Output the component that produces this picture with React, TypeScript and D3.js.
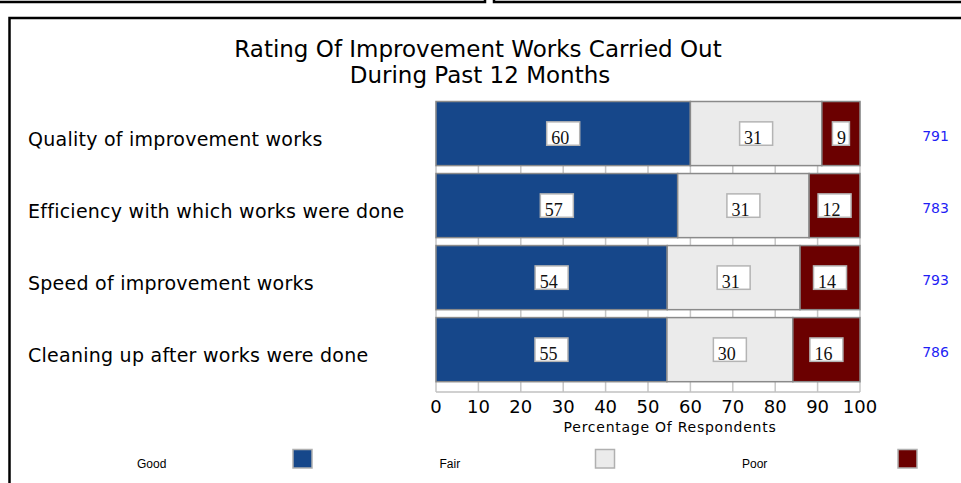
import React from "react";
import * as d3 from "d3";

// rating categories, top to bottom
const categories = [
  "Quality of improvement works",
  "Efficiency with which works were done",
  "Speed of improvement works",
  "Cleaning up after works were done",
];
const seriesNames = ["Good", "Fair", "Poor"];
const good = [60, 57, 54, 55];
const fair = [31, 31, 31, 30];
const poor = [9, 12, 14, 16];
const respondents = [791, 783, 793, 786];
const xTicks = [0, 10, 20, 30, 40, 50, 60, 70, 80, 90, 100];

const colors = ["#16478a", "#ebebeb", "#6b0000"];

const W = 961;
const H = 483;

export default function App() {
  const rows = categories.map((c, i) => ({ cat: c, Good: good[i], Fair: fair[i], Poor: poor[i], n: respondents[i] }));

  // each row is rescaled to a full 100%
  const stacked = d3.stack<any>().keys(seriesNames).offset(d3.stackOffsetExpand)(rows);

  const x = d3.scaleLinear().domain([0, 100]).range([436, 860]);
  const y = d3.scaleBand().domain(categories).range([101.5, 381.7]).paddingInner(0.11).paddingOuter(0);
  const axisY = 392;
  const sans = "DejaVu Sans, sans-serif";

  const colorOf = d3.scaleOrdinal<string, string>().domain(seriesNames).range(colors);
  const legendX = d3.scalePoint().domain(seriesNames).range([137, 742]);

  return (
    <svg width={W} height={H} style={{ position: "absolute", left: 0, top: 0, background: "#fff" }}>
      {/* bits of the surrounding page frames */}
      <path d="M0,2 H485 V-4" fill="none" stroke="#000" strokeWidth={2.5} />
      <path d="M494,-4 V2 H970" fill="none" stroke="#000" strokeWidth={2.5} />
      <rect x={9.5} y={18} width={1000} height={1000} fill="none" stroke="#000" strokeWidth={2.5} />

      <text x={478} y={56.5} textAnchor="middle" fontFamily={sans} fontSize={23} fill="#000">
        Rating Of Improvement Works Carried Out
      </text>
      <text x={480} y={83.3} textAnchor="middle" fontFamily={sans} fontSize={23} fill="#000">
        During Past 12 Months
      </text>

      {/* grid lines, visible in the gaps between bars */}
      {xTicks.map((t) => (
        <line key={"g" + t} x1={x(t)} x2={x(t)} y1={y(categories[0])!} y2={axisY} stroke="#c6c6c6" strokeWidth={1.5} />
      ))}
      <line x1={x(0)} x2={x(100)} y1={axisY} y2={axisY} stroke="#c0c0c0" strokeWidth={1.5} />

      {/* stacked bars */}
      {stacked.map((s) =>
        s.map((d: any, i: number) => (
          <rect
            key={s.key + i}
            x={x(d[0] * 100)}
            y={y(categories[i])!}
            width={x(d[1] * 100) - x(d[0] * 100)}
            height={y.bandwidth()}
            fill={colorOf(s.key)}
            stroke="#8a8a8a"
            strokeWidth={1.5}
          />
        ))
      )}

      {/* value boxes */}
      {stacked.map((s) =>
        s.map((d: any, i: number) => {
          const v = (rows[i] as any)[s.key];
          const label = String(v);
          const cx = (x(d[0] * 100) + x(d[1] * 100)) / 2;
          const cy = y(categories[i])! + y.bandwidth() / 2;
          const bw = label.length * 16 + 1;
          return (
            <g key={"v" + s.key + i}>
              <rect x={cx - bw / 2} y={cy - 11.7} width={bw} height={23.4} fill="#fff" stroke="#b4b4b4" strokeWidth={1.5} />
              <text x={cx - bw / 2 + 4.5} y={cy + 10.3} fontFamily="Liberation Serif, serif" fontSize={18} fill="#111">
                {label}
              </text>
            </g>
          );
        })
      )}

      {/* category labels */}
      {categories.map((c) => (
        <text key={c} x={28} y={y(c)! + y.bandwidth() / 2 + 12} fontFamily={sans} fontSize={19} letterSpacing={0.25} fill="#000">
          {c}
        </text>
      ))}

      {/* respondent counts */}
      {rows.map((r) => (
        <text key={"n" + r.cat} x={935.5} y={y(r.cat)! + y.bandwidth() / 2 + 7} textAnchor="middle" fontFamily={sans} fontSize={14} fill="#1f1ff5">
          {r.n}
        </text>
      ))}

      {/* x axis labels */}
      {xTicks.map((t) => (
        <text key={"t" + t} x={x(t)} y={413} textAnchor="middle" fontFamily={sans} fontSize={18} fill="#000">
          {t}
        </text>
      ))}
      <text x={670} y={432} textAnchor="middle" fontFamily={sans} fontSize={14} letterSpacing={0.75} fill="#000">
        Percentage Of Respondents
      </text>

      {/* legend */}
      {seriesNames.map((name) => (
        <g key={"l" + name}>
          <text x={legendX(name)!} y={468} fontFamily="Liberation Sans, Arial, sans-serif" fontSize={12} fill="#000">
            {name}
          </text>
          <rect x={legendX(name)! + 156} y={449.5} width={19} height={18.5} fill={colorOf(name)} stroke="#b0b0b0" strokeWidth={1.5} />
        </g>
      ))}
    </svg>
  );
}
